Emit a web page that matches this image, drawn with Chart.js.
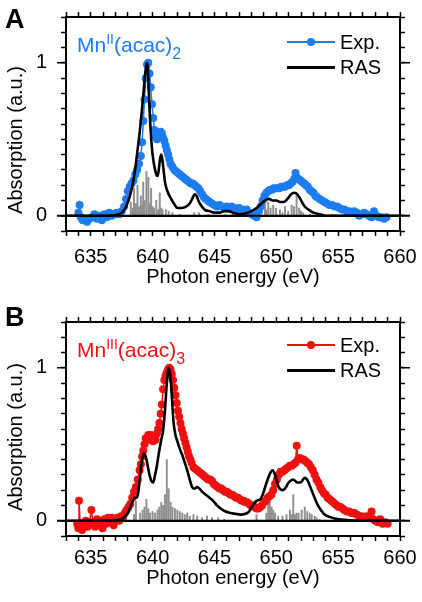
<!DOCTYPE html>
<html>
<head>
<meta charset="utf-8">
<script src="https://cdn.jsdelivr.net/npm/chart.js@4.4.1/dist/chart.umd.min.js"></script>
<style>
  body { margin: 0; background: #fff; font-family: "Liberation Sans", Arial, sans-serif; }
  .panel { position: relative; width: 422px; height: 301px; }
  .panel canvas { position: absolute; left: 0; top: 0; }
  .letter { position: absolute; left: 5px; font-weight: bold; font-size: 27px; line-height: 27px; }
  .ytitle { position: absolute; left: 15px; font-size: 20px; white-space: nowrap;
            transform: translate(-50%, -50%) rotate(-90deg); }
  .cmpd { position: absolute; left: 77px; font-size: 21px; line-height: 21px; white-space: nowrap; }
  .cmpd sup { font-size: 14px; vertical-align: 8px; }
  .cmpd sub { font-size: 16px; vertical-align: -7px; }
  .leg { position: absolute; left: 287px; height: 24px; display: flex; align-items: center; font-size: 20px; }
  .sw { position: relative; width: 48px; height: 24px; margin-right: 5px; }
  .sw .ln { position: absolute; left: 0; right: 0; top: 50%; }
  .sw .dot { position: absolute; left: 20px; top: 8px; width: 8px; height: 8px; border-radius: 50%; }
</style>
</head>
<body>

<div class="panel" id="pA">
  <canvas id="chartA" width="422" height="301"></canvas>
  <div class="letter" style="top:6px">A</div>
  <div class="ytitle" style="top:140px">Absorption (a.u.)</div>
  <div class="cmpd" style="top:29px;color:#1c7cf0">Mn<sup>II</sup>(acac)<sub>2</sub></div>
  <div class="leg" style="top:30px">
    <div class="sw"><div class="ln" style="height:2px;margin-top:-1px;background:#1c7cf0"></div><div class="dot" style="background:#1c7cf0"></div></div>Exp.
  </div>
  <div class="leg" style="top:55px">
    <div class="sw"><div class="ln" style="height:3px;margin-top:-1.5px;background:#000"></div></div>RAS
  </div>
</div>

<div class="panel" id="pB">
  <canvas id="chartB" width="422" height="301"></canvas>
  <div class="letter" style="top:3px">B</div>
  <div class="ytitle" style="top:136px">Absorption (a.u.)</div>
  <div class="cmpd" style="top:33px;color:#f01010">Mn<sup>III</sup>(acac)<sub>3</sub></div>
  <div class="leg" style="top:32px">
    <div class="sw"><div class="ln" style="height:2px;margin-top:-1px;background:#f01010"></div><div class="dot" style="background:#f01010"></div></div>Exp.
  </div>
  <div class="leg" style="top:57px">
    <div class="sw"><div class="ln" style="height:3px;margin-top:-1.5px;background:#000"></div></div>RAS
  </div>
</div>

<script>
// axis ranges / ticks
const xMin = 633, xMax = 660, xStep = 1, xLabelEvery = 5;
const yMin = -0.1, yMax = 1.3, yStep = 0.1;
const yLabels = [0, 1];

// Mn(II)(acac)2 : experiment [eV, abs]
const expA = [
  [634.0,0.02],[634.1,0.07],[634.2,-0.01],[634.35,-0.03],[634.5,-0.02],[634.7,-0.04],[634.9,-0.02],
  [635.1,-0.01],[635.3,0.01],[635.5,-0.02],[635.7,0.0],[635.9,-0.03],[636.1,0.01],[636.3,-0.01],
  [636.5,0.02],[636.7,0.0],[636.9,0.01],[637.1,0.02],[637.3,0.01],[637.5,0.03],[637.7,0.06],
  [637.85,0.11],[638.0,0.16],[638.15,0.19],[638.3,0.21],[638.45,0.23],[638.6,0.27],[638.75,0.30],
  [638.9,0.34],[639.05,0.39],[639.15,0.48],[639.25,0.62],[639.35,0.76],[639.45,0.90],[639.55,0.99],
  [639.65,1.0],[639.75,0.93],[639.85,0.84],[639.95,0.73],[640.05,0.64],[640.15,0.56],[640.25,0.52],
  [640.35,0.50],[640.45,0.51],[640.55,0.53],[640.65,0.55],[640.75,0.54],[640.85,0.51],[640.95,0.49],
  [641.05,0.46],[641.15,0.43],[641.25,0.40],[641.35,0.37],[641.45,0.34],[641.6,0.32],[641.75,0.30],
  [641.9,0.29],[642.05,0.28],[642.2,0.27],[642.35,0.26],[642.5,0.25],[642.65,0.24],[642.8,0.23],
  [642.95,0.22],[643.1,0.21],[643.25,0.21],[643.4,0.20],[643.55,0.19],[643.7,0.18],[643.85,0.16],
  [644.0,0.14],[644.15,0.12],[644.3,0.11],[644.45,0.10],[644.6,0.09],[644.8,0.08],[645.0,0.07],
  [645.2,0.06],[645.4,0.07],[645.6,0.06],[645.8,0.05],[646.0,0.06],[646.2,0.05],[646.4,0.06],
  [646.6,0.05],[646.8,0.04],[647.0,0.05],[647.2,0.04],[647.4,0.03],[647.6,0.04],[647.8,0.02],
  [648.0,0.01],[648.2,0.0],[648.4,-0.01],[648.6,0.03],[648.75,0.06],[648.9,0.10],[649.05,0.13],
  [649.2,0.15],[649.35,0.16],[649.5,0.17],[649.65,0.17],[649.8,0.18],[649.95,0.18],[650.1,0.18],
  [650.25,0.18],[650.4,0.19],[650.55,0.19],[650.7,0.19],[650.85,0.20],[651.0,0.20],[651.15,0.21],
  [651.3,0.22],[651.45,0.24],[651.55,0.28],[651.65,0.25],[651.8,0.24],[651.95,0.23],[652.1,0.22],
  [652.25,0.21],[652.4,0.20],[652.55,0.19],[652.7,0.17],[652.85,0.16],[653.0,0.15],[653.15,0.13],
  [653.3,0.12],[653.5,0.11],[653.7,0.10],[653.9,0.09],[654.1,0.08],[654.3,0.07],[654.5,0.07],
  [654.7,0.06],[654.9,0.06],[655.1,0.05],[655.3,0.04],[655.5,0.04],[655.7,0.03],[655.9,0.03],
  [656.1,0.02],[656.3,0.03],[656.5,0.02],[656.7,0.0],[656.9,0.01],[657.1,0.02],[657.3,0.01],
  [657.5,0.0],[657.7,-0.01],[657.9,0.03],[658.1,0.0],[658.3,-0.01],[658.5,-0.01],[658.7,-0.02],
  [658.9,-0.01]
];

// Mn(II)(acac)2 : RAS calculation
const rasA = [
  [633.0,0],[636.5,0],[637.0,0.005],[637.5,0.02],[637.8,0.05],[638.0,0.09],[638.2,0.14],[638.4,0.21],
  [638.6,0.31],[638.8,0.44],[638.95,0.54],[639.1,0.66],[639.25,0.79],[639.4,0.93],[639.5,0.99],
  [639.55,1.0],[639.62,0.96],[639.7,0.80],[639.8,0.62],[639.9,0.49],[640.0,0.40],[640.15,0.32],
  [640.3,0.27],[640.4,0.26],[640.5,0.30],[640.6,0.37],[640.7,0.40],[640.8,0.36],[640.9,0.29],
  [641.0,0.22],[641.2,0.16],[641.5,0.11],[641.8,0.07],[642.0,0.05],[642.3,0.05],[642.7,0.06],
  [643.0,0.08],[643.2,0.11],[643.4,0.14],[643.55,0.13],[643.7,0.10],[643.9,0.07],[644.2,0.04],
  [644.6,0.03],[645.0,0.02],[645.4,0.02],[645.8,0.03],[646.1,0.03],[646.5,0.02],[647.0,0.01],
  [647.5,0.015],[648.0,0.03],[648.4,0.05],[648.8,0.08],[649.1,0.10],[649.4,0.11],[649.7,0.10],
  [650.0,0.10],[650.3,0.09],[650.6,0.09],[650.9,0.11],[651.2,0.14],[651.45,0.15],[651.7,0.14],
  [652.0,0.10],[652.3,0.06],[652.6,0.04],[653.0,0.02],[653.5,0.01],[654.0,0],[660.0,0]
];

// Mn(II)(acac)2 : stick transitions
const sticksA = [
  [638.24,0.09],[638.4,0.05],[638.5,0.18],[638.65,0.08],[638.78,0.20],[638.9,0.06],[639.05,0.13],
  [639.15,0.07],[639.24,0.22],[639.35,0.10],[639.5,0.29],[639.66,0.25],[639.78,0.08],[639.88,0.18],
  [640.0,0.06],[640.12,0.05],[640.3,0.10],[640.45,0.04],[640.58,0.15],[640.7,0.05],[640.8,0.04],
  [641.07,0.04],[641.3,0.03],[641.6,0.02],[642.2,0.01],[643.36,0.02],[643.76,0.02],[644.5,0.01],
  [645.9,0.01],[646.5,0.01],[649.08,0.08],[649.2,0.04],[649.35,0.09],[649.54,0.05],[649.75,0.07],
  [649.97,0.05],[650.29,0.04],[650.5,0.02],[650.7,0.06],[650.96,0.03],[651.24,0.07],[651.42,0.06],
  [651.64,0.14],[651.85,0.05],[652.0,0.03],[652.18,0.02],[652.72,0.01],[653.5,0.01],[654.5,0.01]
];

// Mn(III)(acac)3 : experiment
const expB = [
  [633.9,-0.02],[634.0,-0.05],[634.05,0.13],[634.15,-0.03],[634.3,-0.06],[634.45,-0.02],[634.6,0.0],
  [634.75,-0.04],[634.9,-0.01],[635.05,0.07],[635.2,-0.02],[635.35,-0.04],[635.5,0.01],[635.65,-0.03],
  [635.8,0.0],[635.95,-0.05],[636.1,0.01],[636.25,-0.02],[636.4,0.02],[636.55,-0.01],[636.7,0.02],
  [636.85,-0.03],[637.0,0.01],[637.15,0.02],[637.3,0.0],[637.45,0.03],[637.6,0.02],[637.75,0.05],
  [637.9,0.07],[638.05,0.09],[638.2,0.11],[638.35,0.15],[638.5,0.19],[638.65,0.22],[638.8,0.27],
  [638.95,0.33],[639.05,0.37],[639.15,0.42],[639.25,0.46],[639.35,0.50],[639.45,0.54],[639.55,0.54],
  [639.65,0.56],[639.75,0.53],[639.85,0.56],[639.95,0.54],[640.05,0.52],[640.15,0.55],[640.25,0.53],
  [640.35,0.57],[640.45,0.60],[640.55,0.64],[640.65,0.70],[640.75,0.76],[640.85,0.86],[640.95,0.92],
  [641.05,0.95],[641.15,0.97],[641.25,0.99],[641.35,1.0],[641.45,0.99],[641.55,0.96],[641.65,0.92],
  [641.75,0.87],[641.85,0.82],[641.95,0.77],[642.05,0.72],[642.15,0.68],[642.25,0.64],[642.35,0.60],
  [642.45,0.57],[642.55,0.54],[642.65,0.51],[642.75,0.48],[642.85,0.45],[642.95,0.42],[643.05,0.40],
  [643.15,0.38],[643.3,0.35],[643.45,0.34],[643.6,0.33],[643.75,0.32],[643.9,0.31],[644.05,0.30],
  [644.2,0.29],[644.35,0.28],[644.5,0.27],[644.65,0.27],[644.8,0.26],[644.95,0.24],[645.1,0.23],
  [645.25,0.22],[645.4,0.21],[645.55,0.21],[645.7,0.20],[645.85,0.19],[646.0,0.19],[646.15,0.18],
  [646.3,0.17],[646.45,0.17],[646.6,0.16],[646.75,0.15],[646.9,0.15],[647.05,0.14],[647.2,0.13],
  [647.35,0.13],[647.5,0.12],[647.65,0.12],[647.8,0.11],[647.95,0.10],[648.1,0.10],[648.25,0.09],
  [648.4,0.08],[648.55,0.08],[648.7,0.09],[648.85,0.10],[649.0,0.12],[649.15,0.13],[649.3,0.15],
  [649.45,0.16],[649.6,0.17],[649.75,0.20],[649.9,0.24],[650.05,0.27],[650.2,0.30],[650.35,0.32],
  [650.5,0.32],[650.65,0.33],[650.8,0.34],[650.95,0.35],[651.1,0.36],[651.25,0.36],[651.4,0.37],
  [651.55,0.38],[651.65,0.49],[651.75,0.40],[651.9,0.41],[652.05,0.40],[652.2,0.40],[652.35,0.39],
  [652.5,0.38],[652.65,0.37],[652.8,0.35],[652.95,0.33],[653.1,0.30],[653.25,0.27],[653.4,0.25],
  [653.55,0.22],[653.7,0.20],[653.85,0.18],[654.0,0.17],[654.15,0.15],[654.3,0.14],[654.45,0.13],
  [654.6,0.12],[654.75,0.11],[654.9,0.10],[655.05,0.09],[655.2,0.09],[655.35,0.08],[655.5,0.07],
  [655.7,0.06],[655.9,0.06],[656.1,0.05],[656.3,0.05],[656.5,0.04],[656.7,0.03],[656.9,0.03],
  [657.1,0.02],[657.3,0.03],[657.5,0.02],[657.7,0.06],[657.85,0.01],[658.0,0.0],[658.2,-0.01],
  [658.4,0.01],[658.6,-0.02],[658.8,-0.01],[659.0,-0.02]
];

// Mn(III)(acac)3 : RAS calculation
const rasB = [
  [633.0,0],[636.5,0],[637.2,0.005],[637.6,0.015],[638.0,0.05],[638.2,0.09],[638.4,0.13],[638.55,0.15],
  [638.7,0.15],[638.85,0.19],[639.0,0.30],[639.15,0.40],[639.3,0.44],[639.45,0.42],[639.6,0.36],
  [639.75,0.30],[639.9,0.26],[640.05,0.25],[640.2,0.30],[640.35,0.36],[640.5,0.44],[640.7,0.53],
  [640.85,0.59],[641.0,0.72],[641.15,0.90],[641.3,1.0],[641.42,0.96],[641.55,0.82],[641.7,0.64],
  [641.85,0.56],[642.0,0.52],[642.2,0.47],[642.4,0.43],[642.6,0.38],[642.8,0.33],[643.0,0.27],
  [643.2,0.22],[643.4,0.21],[643.6,0.22],[643.8,0.21],[644.0,0.19],[644.3,0.17],[644.6,0.15],
  [644.9,0.13],[645.2,0.10],[645.5,0.08],[645.9,0.06],[646.3,0.05],[646.7,0.045],[647.1,0.04],
  [647.5,0.045],[647.8,0.06],[648.1,0.10],[648.4,0.13],[648.7,0.14],[648.9,0.17],[649.1,0.22],
  [649.3,0.27],[649.5,0.31],[649.7,0.33],[649.85,0.31],[650.0,0.27],[650.2,0.22],[650.5,0.20],
  [650.7,0.21],[651.0,0.25],[651.35,0.27],[651.7,0.25],[651.95,0.25],[652.3,0.28],[652.55,0.26],
  [652.8,0.21],[653.0,0.17],[653.3,0.11],[653.6,0.07],[653.9,0.04],[654.3,0.025],[654.7,0.015],
  [655.2,0.008],[656.0,0.003],[657.0,0],[660.0,0]
];

// Mn(III)(acac)3 : stick transitions
const sticksB = [
  [638.5,0.04],[638.65,0.13],[639.0,0.05],[639.2,0.07],[639.35,0.09],[639.5,0.14],[639.65,0.08],
  [639.8,0.05],[640.0,0.06],[640.2,0.05],[640.4,0.07],[640.55,0.09],[640.7,0.12],[640.85,0.10],
  [641.0,0.17],[641.15,0.40],[641.3,0.21],[641.45,0.12],[641.6,0.09],[641.8,0.08],[642.0,0.07],
  [642.2,0.06],[642.4,0.05],[642.6,0.04],[642.8,0.05],[643.0,0.03],[643.3,0.04],[643.6,0.03],
  [644.0,0.02],[644.4,0.03],[644.8,0.02],[645.3,0.02],[645.8,0.01],[648.4,0.04],[649.2,0.05],
  [649.35,0.11],[649.48,0.13],[649.62,0.09],[649.75,0.07],[649.9,0.05],[650.15,0.03],[650.5,0.03],
  [650.83,0.04],[651.1,0.07],[651.25,0.04],[651.37,0.17],[651.5,0.04],[651.64,0.05],[651.8,0.05],
  [652.05,0.07],[652.3,0.09],[652.5,0.06],[652.7,0.05],[652.86,0.04],[653.1,0.03],[653.26,0.02],
  [653.5,0.01]
];

const FONT = { family: "'Liberation Sans', Arial, sans-serif", size: 20 };
const isZero = v => Math.abs(v) < 1e-9;

function pts(arr) {
  return arr.map(p => ({ x: p[0], y: p[1] }));
}

// longer ticks at the labelled y values, zero line running past the frame
const majorTicks = {
  id: "majorTicks",
  afterDraw(chart) {
    const { ctx, chartArea: a, scales } = chart;
    ctx.save();
    ctx.strokeStyle = "#000";
    yLabels.forEach(v => {
      const py = scales.y.getPixelForValue(v);
      ctx.lineWidth = isZero(v) ? 2 : 1.5;
      ctx.beginPath();
      if (isZero(v)) {
        ctx.moveTo(a.left - 9, py); ctx.lineTo(a.right + 10, py);
      } else {
        ctx.moveTo(a.left - 9, py); ctx.lineTo(a.left, py);
        ctx.moveTo(a.right, py); ctx.lineTo(a.right + 10, py);
      }
      ctx.stroke();
    });
    ctx.restore();
  },
};

function makeChart(id, exp, ras, sticks, color, top, bottom, labelPad) {
  const ctx = document.getElementById(id).getContext("2d");
  const tickGrid = { drawOnChartArea: false, tickLength: 5, tickWidth: 1.5, tickColor: "#000" };
  const border = { color: "#000", width: 2 };
  // fixed frame: axis boxes sized by hand, label overhang ignored
  const fixH = h => s => { s.height = h; s.paddingLeft = 0; s.paddingRight = 0; };
  const fixW = w => s => { s.width = w; s.paddingTop = 0; s.paddingBottom = 0; };
  return new Chart(ctx, {
    type: "line",
    data: {
      datasets: [
        {
          label: "RAS",
          data: pts(ras),
          borderColor: "#000",
          borderWidth: 2.6,
          pointRadius: 0,
          cubicInterpolationMode: "monotone",
        },
        {
          label: "Exp.",
          data: pts(exp),
          borderColor: color,
          backgroundColor: color,
          borderWidth: 1.5,
          pointRadius: 4,
          pointBorderWidth: 0,
          pointBackgroundColor: color,
        },
        {
          type: "bar",
          label: "sticks",
          data: pts(sticks),
          backgroundColor: "#8f8f8f",
          barThickness: 1.3,
        },
      ],
    },
    options: {
      responsive: false,
      animation: false,
      layout: { padding: 0 },
      plugins: { legend: { display: false }, tooltip: { enabled: false } },
      scales: {
        x: {
          type: "linear",
          position: "bottom",
          min: xMin, max: xMax,
          offset: false,
          afterFit: fixH(301 - bottom),
          ticks: {
            stepSize: xStep, autoSkip: false, maxRotation: 0,
            color: "#000", font: FONT, padding: labelPad,
            callback: v => (v % xLabelEvery === 0 ? v : ""),
          },
          grid: Object.assign({ offset: false }, tickGrid),
          border: border,
          title: { display: true, text: "Photon energy (eV)", color: "#000", font: FONT, padding: { top: 0, bottom: 12 } },
        },
        x2: {
          type: "linear",
          position: "top",
          min: xMin, max: xMax,
          offset: false,
          afterFit: fixH(top),
          ticks: { stepSize: xStep, autoSkip: false, display: false },
          grid: Object.assign({ offset: false }, tickGrid),
          border: border,
        },
        y: {
          position: "left",
          min: yMin, max: yMax,
          afterFit: fixW(66),
          ticks: {
            stepSize: yStep, autoSkip: false,
            color: "#000", font: FONT, padding: 14,
            callback: v => (yLabels.some(l => Math.abs(v - l) < 1e-9) ? String(Math.round(v)) : ""),
          },
          grid: {
            drawOnChartArea: true,
            color: c => (c.tick && isZero(c.tick.value) ? "#000" : "rgba(0,0,0,0)"),
            lineWidth: c => (c.tick && isZero(c.tick.value) ? 2 : 1),
            tickLength: 5, tickWidth: 1.5, tickColor: "#000",
          },
          border: border,
        },
        y2: {
          position: "right",
          min: yMin, max: yMax,
          afterFit: fixW(22),
          ticks: { stepSize: yStep, autoSkip: false, display: false },
          grid: tickGrid,
          border: border,
        },
      },
    },
    plugins: [majorTicks],
  });
}

makeChart("chartA", expA, rasA, sticksA, "#1c7cf0", 17, 231, 9);
makeChart("chartB", expB, rasB, sticksB, "#f01010", 21, 235, 5);
</script>
</body>
</html>
